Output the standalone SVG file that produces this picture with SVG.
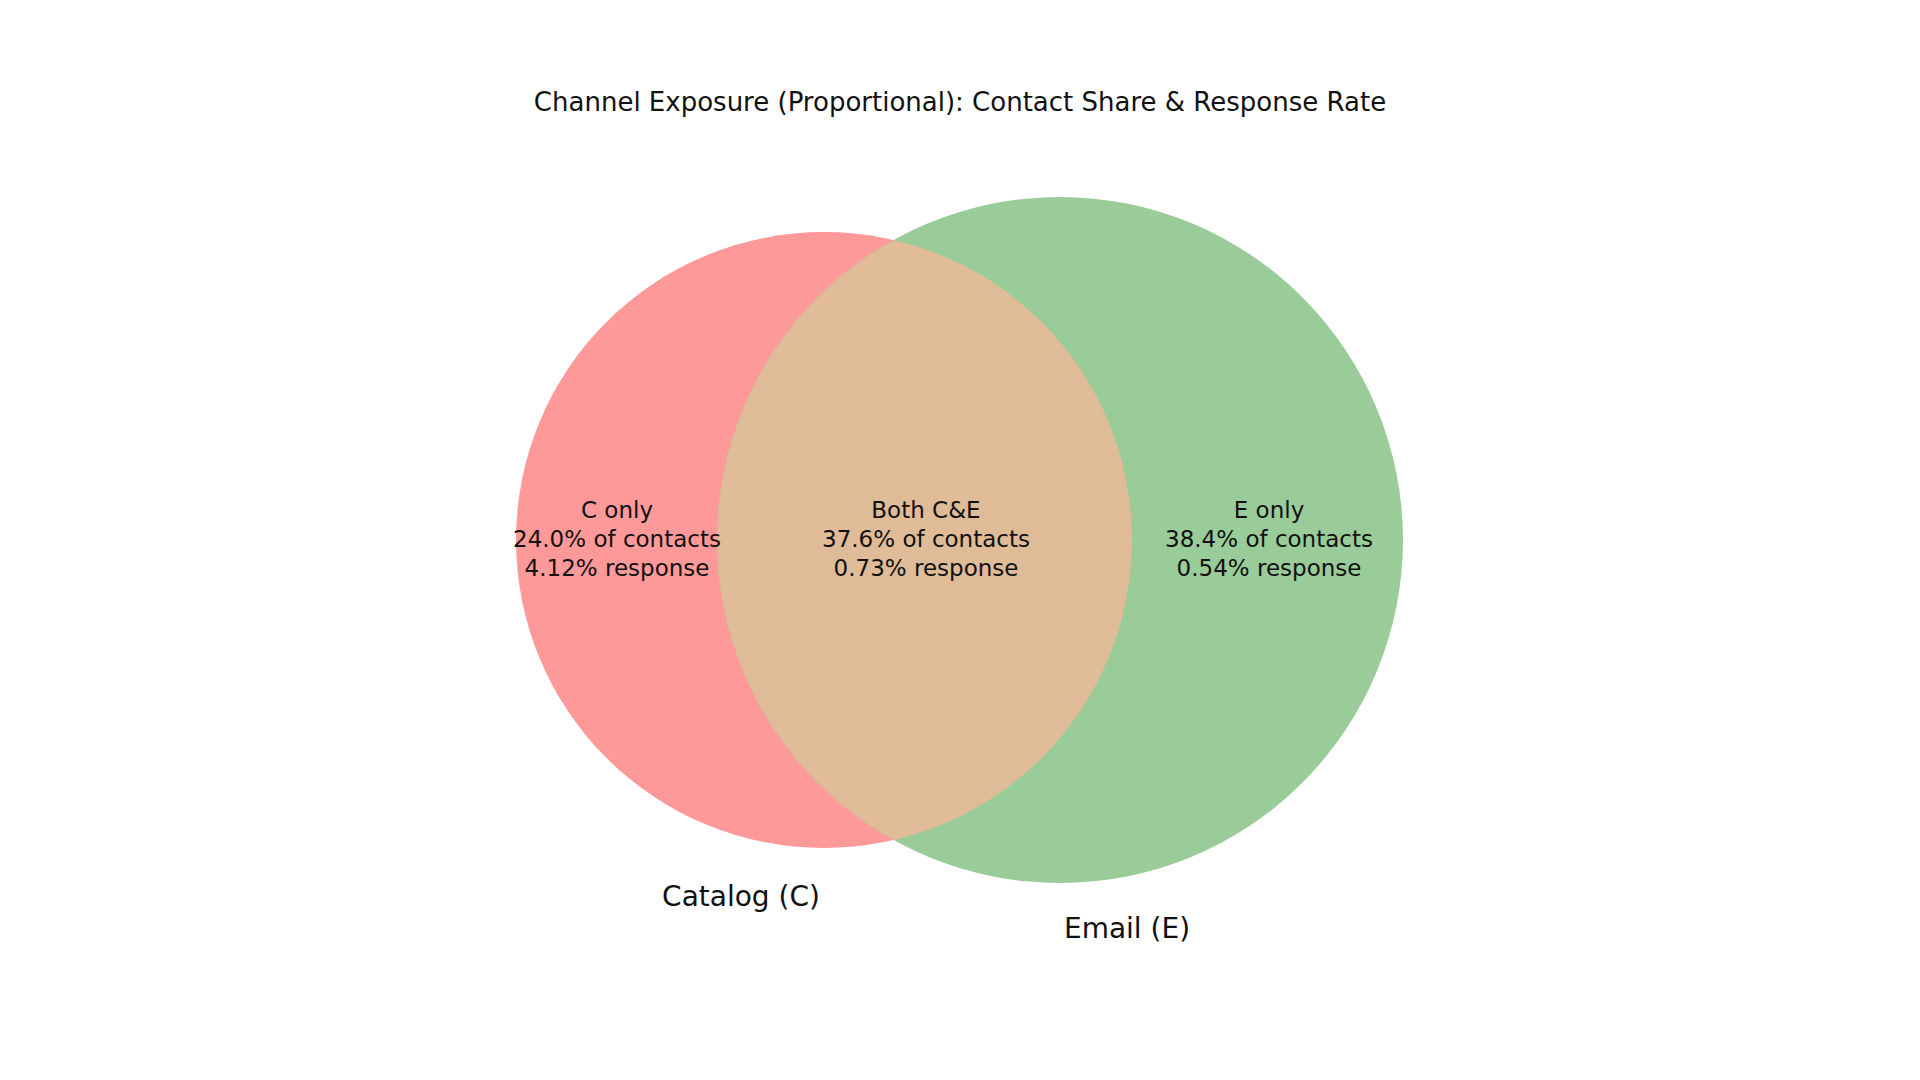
<svg xmlns="http://www.w3.org/2000/svg" width="1920" height="1080" viewBox="0 0 1920 1080">
<style>
text{font-family:"DejaVu Sans",sans-serif;fill:#111;text-anchor:middle}
.l{font-size:23px}
.s{font-size:28px}
</style>
<defs><clipPath id="cc"><circle cx="824" cy="540" r="308"/></clipPath></defs>
<rect width="1920" height="1080" fill="#fff"/>
<text x="960" y="111" style="font-size:26px">Channel Exposure (Proportional): Contact Share &amp; Response Rate</text>
<g id="catalog"><circle cx="824" cy="540" r="308" fill="#fe9999"/></g>
<g id="email"><circle cx="1060" cy="540" r="343" fill="#99cc99"/></g>
<g id="both"><circle cx="1060" cy="540" r="343" fill="#dfbb98" clip-path="url(#cc)"/></g>
<g id="labels">
<text class="l" x="617" y="518">C only</text>
<text class="l" x="617" y="547">24.0% of contacts</text>
<text class="l" x="617" y="576">4.12% response</text>
<text class="l" x="926" y="518">Both C&amp;E</text>
<text class="l" x="926" y="547">37.6% of contacts</text>
<text class="l" x="926" y="576">0.73% response</text>
<text class="l" x="1269" y="518">E only</text>
<text class="l" x="1269" y="547">38.4% of contacts</text>
<text class="l" x="1269" y="576">0.54% response</text>
<text class="s" x="741" y="906">Catalog (C)</text>
<text class="s" x="1127" y="938">Email (E)</text>
</g>
<g id="connectors"/>
</svg>
